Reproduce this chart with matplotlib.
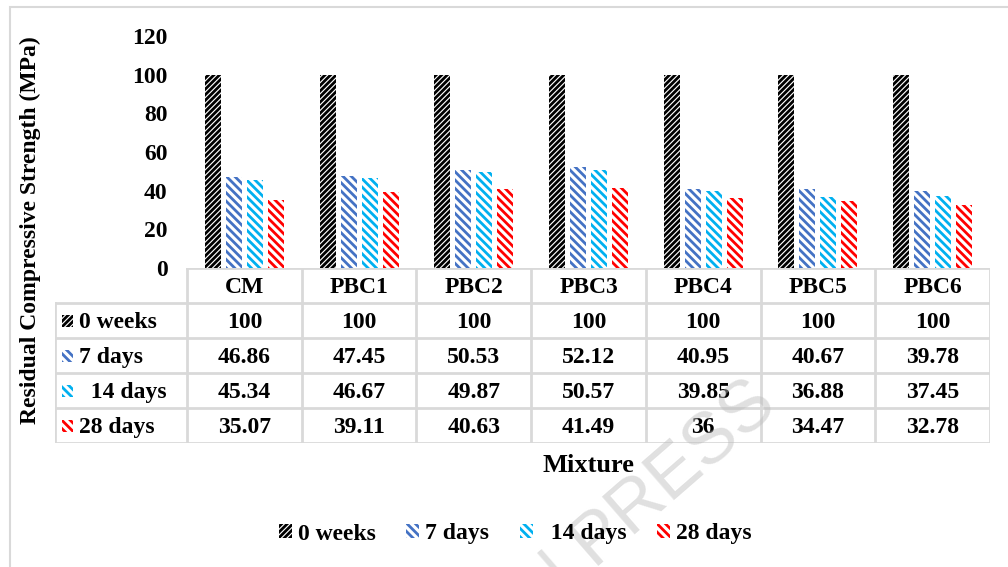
import numpy as np
import matplotlib.pyplot as plt
from matplotlib.patches import Rectangle

plt.rcParams['font.family'] = ['Liberation Serif', 'DejaVu Serif']
plt.rcParams['font.weight'] = 'bold'
plt.rcParams['hatch.linewidth'] = 2.0

# data
mixtures = ['CM', 'PBC1', 'PBC2', 'PBC3', 'PBC4', 'PBC5', 'PBC6']
series_names = ['0 weeks', '7 days', '  14 days', '28 days']
weeks0 = [100, 100, 100, 100, 100, 100, 100]
days7 = [46.86, 47.45, 50.53, 52.12, 40.95, 40.67, 39.78]
days14 = [45.34, 46.67, 49.87, 50.57, 39.85, 36.88, 37.45]
days28 = [35.07, 39.11, 40.63, 41.49, 36, 34.47, 32.78]
yticks = [0, 20, 40, 60, 80, 100, 120]

series = [weeks0, days7, days14, days28]
colors = ['#000000', '#4472C4', '#00B0F0', '#FF0000']
hatches = ['//////', '\\\\\\\\', '\\\\\\\\', '\\\\\\\\']
grid_col = '#D9D9D9'
FS = 17

W, H = 1008, 567
fig = plt.figure(figsize=(W / 100, H / 100), dpi=100)

# light frame around the figure
fig.add_artist(Rectangle((10 / W, -0.1), 1.2, 1.1 - 7 / H, transform=fig.transFigure,
                         fill=False, edgecolor=grid_col, linewidth=1.5))

# bar area
ax_l, ax_r, ax_b, ax_t = 187, 990, 268, 36
ax = fig.add_axes([ax_l / W, 1 - ax_b / H, (ax_r - ax_l) / W, (ax_b - ax_t) / H])
x = np.arange(len(mixtures))
bw = 0.14
step = 0.183
bars = []
for i, vals in enumerate(series):
    b = ax.bar(x + (i - 1.5) * step, vals, bw, facecolor='white', edgecolor=colors[i],
               hatch=hatches[i], linewidth=0, label=series_names[i])
    bars.append(b)
ax.set_xlim(-0.5, len(mixtures) - 0.5)
ax.set_ylim(0, 120)
ax.set_yticks(yticks)
ax.set_xticks([])
ax.tick_params(axis='y', length=0, pad=14, labelsize=FS)
for s in ax.spines.values():
    s.set_visible(False)

# data table under the bars
col_w = (ax_r - ax_l) / len(mixtures)
tb_l, tb_b = 55, 443
left_x = -0.5 - (ax_l - tb_l) / col_w
tax = fig.add_axes([tb_l / W, 1 - tb_b / H, (ax_r - tb_l) / W, (tb_b - ax_b) / H])
tax.set_xlim(left_x, len(mixtures) - 0.5)
tax.set_ylim(5, 0)
tax.axis('off')
lk = dict(color=grid_col, linewidth=2, solid_capstyle='projecting')
tax.plot([-0.5, len(mixtures) - 0.5], [0, 0], **lk)
for r in range(1, 6):
    tax.plot([left_x, len(mixtures) - 0.5], [r, r], **lk)
tax.plot([left_x, left_x], [1, 5], **lk)
for c in range(len(mixtures) + 1):
    tax.plot([c - 0.5, c - 0.5], [0, 5], **lk)
for c, name in enumerate(mixtures):
    tax.text(c, 0.55, name, ha='center', va='center', fontsize=FS)
for r, vals in enumerate(series):
    for c, v in enumerate(vals):
        tax.text(c, r + 1.55, '{:g}'.format(v), ha='center', va='center', fontsize=FS)
    tax.add_patch(Rectangle((left_x + 0.06, r + 1.33), 0.1, 0.36, facecolor='white',
                            edgecolor=colors[r], hatch=hatches[r], linewidth=0))
    tax.text(left_x + 0.21, r + 1.55, series_names[r], ha='left', va='center', fontsize=FS)

fig.text(30 / W, 1 - 230 / H, 'Residual Compressive Strength (MPa)', rotation=90,
         ha='center', va='center', fontsize=FS)
fig.text((ax_l + ax_r) / 2 / W, 1 - 465 / H, 'Mixture', ha='center', va='center', fontsize=19)

fig.legend(handles=bars, loc='center', bbox_to_anchor=(515 / W, 1 - 534 / H), ncol=4,
           frameon=False, fontsize=FS, handlelength=0.55, handleheight=0.55,
           handletextpad=0.25, columnspacing=1.3)

# watermark
fig.text(640 / W, 1 - 505 / H, 'IN PRESS', rotation=41, ha='center', va='center',
         fontsize=52, family='Liberation Sans', fontweight='normal', color='#BBBBBB',
         alpha=0.45)

fig.savefig('out.png', dpi=100)
